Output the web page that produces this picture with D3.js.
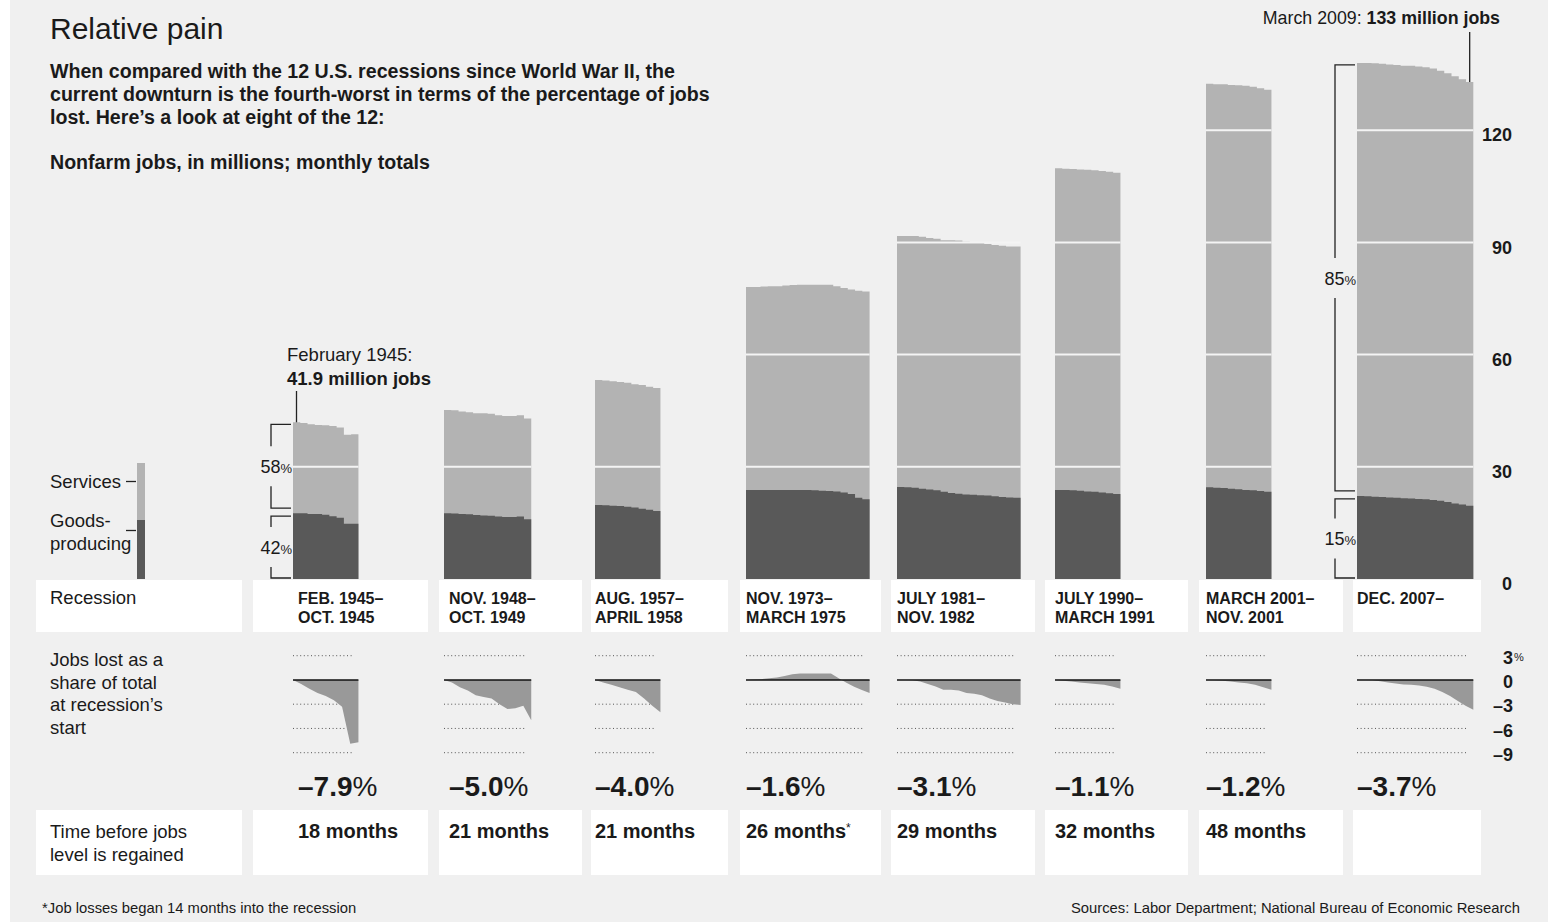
<!DOCTYPE html>
<html>
<head>
<meta charset="utf-8">
<script src="https://cdn.jsdelivr.net/npm/d3@7"></script>
<style>
    body { margin: 0; background: #fff; }
    svg text { font-family: "Liberation Sans", Arial, sans-serif; fill: #1a1a1a; }
    .bold { font-weight: bold; }
</style>
</head>
<body>
<div id="chart"></div>
<script>
// recession periods (two lines each)
var periods = [
    ["FEB. 1945–", "OCT. 1945"],
    ["NOV. 1948–", "OCT. 1949"],
    ["AUG.  1957–", "APRIL 1958"],
    ["NOV. 1973–", "MARCH 1975"],
    ["JULY 1981–", "NOV. 1982"],
    ["JULY 1990–", "MARCH 1991"],
    ["MARCH 2001–", "NOV. 2001"],
    ["DEC. 2007–", ""]
];

// nonfarm jobs, millions, monthly
var totalJobs = [
    [41.9, 41.7, 41.4, 41.2, 41.1, 40.9, 40.5, 38.6, 38.7],
    [45.2, 45.1, 44.8, 44.6, 44.3, 44.3, 44.2, 43.8, 43.6, 43.6, 43.8, 42.9],
    [53.2, 53.1, 52.9, 52.7, 52.5, 52.1, 51.9, 51.4, 51.1],
    [78.1, 78.1, 78.2, 78.3, 78.3, 78.5, 78.6, 78.7, 78.7, 78.7, 78.7, 78.7, 78.3, 77.8, 77.4, 77.1, 76.9],
    [91.7, 91.7, 91.7, 91.5, 91.2, 91.0, 90.6, 90.6, 90.5, 90.2, 90.1, 90.0, 89.6, 89.3, 89.1, 88.9, 88.9],
    [109.8, 109.7, 109.6, 109.5, 109.4, 109.3, 109.1, 108.9, 108.6],
    [132.4, 132.3, 132.3, 132.1, 132.0, 131.9, 131.6, 131.2, 130.8],
    [138.0, 138.0, 137.9, 137.8, 137.6, 137.4, 137.2, 137.2, 137.0, 136.8, 136.5, 135.9, 135.2, 134.4, 133.6, 132.9]
];

// goods-producing jobs, millions, monthly
var goodsJobs = [
    [17.6, 17.6, 17.4, 17.4, 17.2, 16.8, 16.4, 14.8, 14.8],
    [17.6, 17.5, 17.4, 17.3, 17.1, 17.0, 16.9, 16.7, 16.6, 16.6, 16.7, 16.0],
    [19.8, 19.7, 19.6, 19.5, 19.3, 19.1, 18.8, 18.5, 18.2],
    [23.8, 23.8, 23.8, 23.8, 23.8, 23.8, 23.8, 23.8, 23.8, 23.7, 23.6, 23.5, 23.4, 23.1, 22.7, 21.7, 21.3],
    [24.6, 24.5, 24.4, 24.1, 23.9, 23.7, 23.3, 23.0, 22.8, 22.6, 22.5, 22.4, 22.3, 22.1, 21.9, 21.8, 21.7],
    [23.8, 23.8, 23.7, 23.6, 23.4, 23.3, 23.1, 22.9, 22.7],
    [24.5, 24.4, 24.3, 24.1, 24.0, 23.8, 23.7, 23.5, 23.3],
    [22.2, 22.1, 22.0, 21.9, 21.8, 21.7, 21.6, 21.5, 21.4, 21.3, 21.1, 20.9, 20.6, 20.2, 19.9, 19.6]
];

// jobs lost as a share of total at recession's start, percent
var jobsLostPct = [
    [0, -0.5, -1.1, -1.6, -2.0, -2.5, -3.3, -7.9, -7.7],
    [0, -0.3, -0.9, -1.3, -1.9, -2.1, -2.3, -3.0, -3.6, -3.5, -3.2, -5.0],
    [0, -0.3, -0.6, -0.9, -1.2, -1.5, -2.3, -3.2, -4.0],
    [0, 0.05, 0.1, 0.2, 0.3, 0.5, 0.7, 0.8, 0.8, 0.8, 0.8, 0.8, 0.2, -0.35, -0.85, -1.25, -1.6],
    [0, 0, -0.05, -0.2, -0.5, -0.8, -1.2, -1.2, -1.3, -1.6, -1.7, -1.9, -2.3, -2.6, -2.8, -3.0, -3.1],
    [0, -0.1, -0.2, -0.3, -0.4, -0.5, -0.6, -0.8, -1.1],
    [0, -0.05, -0.1, -0.2, -0.3, -0.4, -0.6, -0.9, -1.2],
    [0, 0, -0.05, -0.15, -0.3, -0.45, -0.55, -0.6, -0.7, -0.85, -1.1, -1.5, -2.0, -2.6, -3.2, -3.7]
];

var worstDrop = ["–7.9", "–5.0", "–4.0", "–1.6", "–3.1", "–1.1", "–1.2", "–3.7"];
var monthsToRegain = ["18 months", "21 months", "21 months", "26 months", "29 months", "32 months", "48 months", ""];
var regainNote = ["", "", "", "*", "", "", "", ""];
var jobsTicks = [0, 30, 60, 90, 120];
var pctTicks = [3, 0, -3, -6, -9];
var shareBrackets = [
    {col: 0, services: "58", goods: "42"},
    {col: 7, services: "85", goods: "15"}
];

function init ()
{
    var w = 1554;
    var h = 922;
    var monthW = 7.27;
    var barX = [293, 444, 595, 746, 897, 1055, 1206, 1357];
    var colX = [298, 449, 595, 746, 897, 1055, 1206, 1357];
    var cellX0 = [253, 439, 591, 740, 891, 1045, 1199, 1353];
    var cellX1 = [428, 582, 728, 881, 1035, 1188, 1343, 1481];
    var servColor = "#b3b3b3";
    var goodsColor = "#595959";

    var svg = d3.select("#chart")
        .append("svg")
        .attr("width", w)
        .attr("height", h);

    //background panel
    svg.append("rect")
        .attr("x", 10).attr("y", 0)
        .attr("width", 1538).attr("height", h)
        .attr("fill", "#f0f0f0");

    //titles
    svg.append("text")
        .attr("x", 50).attr("y", 39)
        .style("font-size", "30px")
        .text("Relative pain");

    var sub = ["When compared with the 12 U.S. recessions since World War II, the",
               "current downturn is the fourth-worst in terms of the percentage of jobs",
               "lost. Here’s a look at eight of the 12:"];
    svg.selectAll(".sub")
        .data(sub)
        .enter()
        .append("text")
        .attr("class", "sub bold")
        .attr("x", 50)
        .attr("y", function(d, i) { return 78 + i * 23; })
        .style("font-size", "19.6px")
        .text(function(d) { return d; });

    svg.append("text")
        .attr("class", "bold")
        .attr("x", 50).attr("y", 169)
        .style("font-size", "19.6px")
        .text("Nonfarm jobs, in millions; monthly totals");

    //scales
    var yScale = d3.scaleLinear()
        .domain([0, 120])
        .range([579, 130.2]);

    var pScale = d3.scaleLinear()
        .domain([-9, 3])
        .range([752.7, 655.7]);

    //table cells
    var rows = [{y: 580, h: 52}, {y: 810, h: 65}];
    rows.forEach(function(r) {
        svg.append("rect")
            .attr("x", 36).attr("y", r.y)
            .attr("width", 206).attr("height", r.h)
            .attr("fill", "#fff");
        svg.selectAll(null)
            .data(cellX0)
            .enter()
            .append("rect")
            .attr("x", function(d) { return d; })
            .attr("y", r.y)
            .attr("width", function(d, i) { return cellX1[i] - d; })
            .attr("height", r.h)
            .attr("fill", "#fff");
    });

    //stacked monthly bars, drawn as step areas
    totalJobs.forEach(function(series, i) {
        var g = svg.append("g").attr("class", "bar");
        var n = series.length;
        var xScale = d3.scaleLinear()
            .domain([0, n])
            .range([barX[i], barX[i] + n * monthW]);

        var steps = d3.range(n + 1);
        var servArea = d3.area()
            .curve(d3.curveStepAfter)
            .x(function(j) { return xScale(j); })
            .y0(yScale(0))
            .y1(function(j) { return yScale(series[Math.min(j, n - 1)]); });
        var goodsArea = d3.area()
            .curve(d3.curveStepAfter)
            .x(function(j) { return xScale(j); })
            .y0(yScale(0))
            .y1(function(j) { return yScale(goodsJobs[i][Math.min(j, n - 1)]); });

        g.append("path")
            .datum(steps)
            .attr("d", servArea)
            .attr("fill", servColor);
        g.append("path")
            .datum(steps)
            .attr("d", goodsArea)
            .attr("fill", goodsColor);

        //white gridlines over the bar
        var top = d3.max(series);
        g.selectAll(".grid")
            .data(jobsTicks.filter(function(t) { return t > 0 && t < top; }))
            .enter()
            .append("line")
            .attr("x1", xScale(0)).attr("x2", xScale(n))
            .attr("y1", function(t) { return yScale(t); })
            .attr("y2", function(t) { return yScale(t); })
            .attr("stroke", "#f4f4f4")
            .attr("stroke-width", 2);
    });

    //jobs axis
    var yAxis = d3.axisRight(yScale)
        .tickValues(jobsTicks)
        .tickSize(0);
    var ya = svg.append("g")
        .attr("transform", "translate(1512,0)")
        .call(yAxis);
    ya.select(".domain").remove();
    ya.selectAll("text")
        .attr("x", 0).attr("dy", "0.32em")
        .attr("y", 5)
        .attr("text-anchor", "end")
        .attr("class", "bold")
        .style("font-size", "18px");

    //share brackets
    shareBrackets.forEach(function(b) {
        var i = b.col;
        var t = yScale(totalJobs[i][0]) + 2;
        var m = yScale(goodsJobs[i][0]);
        var bot = yScale(0) - 1;
        var bx = barX[i] - 22;
        var ex = barX[i] - 2;
        var segs = [[t, m - 5, b.services], [m + 3, bot, b.goods]];
        segs.forEach(function(s) {
            var mid = (s[0] + s[1]) / 2;
            var path = "M" + ex + "," + s[0] + "H" + bx + "V" + (mid - 20) +
                       "M" + bx + "," + (mid + 20) + "V" + s[1] + "H" + ex;
            svg.append("path")
                .attr("d", path)
                .attr("fill", "none")
                .attr("stroke", "#222")
                .attr("stroke-width", 1.3);
            var tx = svg.append("text")
                .attr("x", ex + 1).attr("y", mid + 7)
                .attr("text-anchor", "end")
                .style("font-size", "18px")
                .text(s[2]);
            tx.append("tspan").style("font-size", "13px").text("%");
        });
    });

    //callouts
    var firstTop = yScale(totalJobs[0][0]);
    svg.append("line")
        .attr("x1", 296.5).attr("x2", 296.5)
        .attr("y1", 391).attr("y2", firstTop)
        .attr("stroke", "#222").attr("stroke-width", 1.3);
    svg.append("text")
        .attr("x", 287).attr("y", 361)
        .style("font-size", "18.5px")
        .text("February 1945:");
    svg.append("text")
        .attr("class", "bold")
        .attr("x", 287).attr("y", 385)
        .style("font-size", "18.5px")
        .text(totalJobs[0][0] + " million jobs");

    var last = totalJobs[7];
    var lastX = barX[7] + (last.length - 0.5) * monthW;
    svg.append("line")
        .attr("x1", lastX).attr("x2", lastX)
        .attr("y1", 32).attr("y2", yScale(last[last.length - 1]))
        .attr("stroke", "#222").attr("stroke-width", 1.3);
    var mt = svg.append("text")
        .attr("x", 1500).attr("y", 24)
        .attr("text-anchor", "end")
        .style("font-size", "17.8px")
        .text("March 2009: ");
    mt.append("tspan").attr("class", "bold").text("133 million jobs");

    //legend
    svg.append("rect").attr("x", 137).attr("y", 463).attr("width", 8).attr("height", 57).attr("fill", servColor);
    svg.append("rect").attr("x", 137).attr("y", 520).attr("width", 8).attr("height", 59).attr("fill", goodsColor);
    svg.append("line").attr("x1", 126).attr("x2", 136).attr("y1", 481.5).attr("y2", 481.5).attr("stroke", "#222").attr("stroke-width", 1.3);
    svg.append("line").attr("x1", 126).attr("x2", 136).attr("y1", 530.5).attr("y2", 530.5).attr("stroke", "#222").attr("stroke-width", 1.3);
    svg.append("text").attr("x", 50).attr("y", 488).style("font-size", "18.5px").text("Services");
    svg.append("text").attr("x", 50).attr("y", 527).style("font-size", "18.5px").text("Goods-");
    svg.append("text").attr("x", 50).attr("y", 550).style("font-size", "18.5px").text("producing");

    //recession row
    svg.append("text").attr("x", 50).attr("y", 604).style("font-size", "18.5px").text("Recession");
    periods.forEach(function(p, i) {
        p.forEach(function(line, k) {
            svg.append("text")
                .attr("class", "bold")
                .attr("x", colX[i]).attr("y", 604 + k * 19)
                .style("font-size", "16px")
                .text(line);
        });
    });

    //jobs lost label
    ["Jobs lost as a", "share of total", "at recession’s", "start"].forEach(function(t, k) {
        svg.append("text")
            .attr("x", 50).attr("y", 666 + k * 22.5)
            .style("font-size", "18.5px")
            .text(t);
    });

    //sparklines
    jobsLostPct.forEach(function(series, i) {
        var n = series.length;
        var x0 = barX[i];
        var x1 = barX[i] + n * monthW;
        var sx = d3.scaleLinear()
            .domain([0, n - 1])
            .range([x0, x1]);

        svg.selectAll(null)
            .data(pctTicks.filter(function(t) { return t !== 0; }))
            .enter()
            .append("line")
            .attr("x1", x0).attr("x2", x1 - 5)
            .attr("y1", function(t) { return pScale(t); })
            .attr("y2", function(t) { return pScale(t); })
            .attr("stroke", "#555")
            .attr("stroke-width", 1)
            .attr("stroke-dasharray", "1,2.6");

        var area = d3.area()
            .x(function(d, j) { return sx(j); })
            .y0(pScale(0))
            .y1(function(d) { return pScale(d); });

        svg.append("path")
            .datum(series)
            .attr("d", area)
            .attr("fill", "#999");

        svg.append("line")
            .attr("x1", x0).attr("x2", x1)
            .attr("y1", pScale(0)).attr("y2", pScale(0))
            .attr("stroke", "#111")
            .attr("stroke-width", 1.6);

        //worst drop
        var wt = svg.append("text")
            .attr("class", "bold")
            .attr("x", colX[i]).attr("y", 796)
            .style("font-size", "28px")
            .text(worstDrop[i]);
        wt.append("tspan").style("font-weight", "normal").text("%");

        //months to regain
        var mt2 = svg.append("text")
            .attr("class", "bold")
            .attr("x", colX[i]).attr("y", 838)
            .style("font-size", "20px")
            .text(monthsToRegain[i]);
        if (regainNote[i]) {
            mt2.append("tspan")
                .attr("dy", -6)
                .style("font-size", "12px")
                .style("font-weight", "normal")
                .text(regainNote[i]);
        }
    });

    //percent axis
    var pAxis = d3.axisRight(pScale)
        .tickValues(pctTicks)
        .tickSize(0)
        .tickFormat(function(d) { return d < 0 ? "–" + Math.abs(d) : d; });
    var pa = svg.append("g")
        .attr("transform", "translate(1513,0)")
        .call(pAxis);
    pa.select(".domain").remove();
    pa.selectAll("text")
        .attr("x", 0).attr("dy", "0.32em")
        .attr("y", 2)
        .attr("text-anchor", "end")
        .attr("class", "bold")
        .style("font-size", "18px");
    pa.selectAll(".tick")
        .filter(function(d) { return d === 3; })
        .append("text")
        .attr("x", 1).attr("y", 5)
        .attr("text-anchor", "start")
        .style("font-size", "11px")
        .text("%");

    //time row label
    svg.append("text").attr("x", 50).attr("y", 838).style("font-size", "18.5px").text("Time before jobs");
    svg.append("text").attr("x", 50).attr("y", 861).style("font-size", "18.5px").text("level is regained");

    //footer
    svg.append("text")
        .attr("x", 42).attr("y", 913)
        .style("font-size", "14.8px")
        .text("*Job losses began 14 months into the recession");
    svg.append("text")
        .attr("x", 1520).attr("y", 913)
        .attr("text-anchor", "end")
        .style("font-size", "14.8px")
        .text("Sources: Labor Department; National Bureau of Economic Research");
};

window.onload = init;
</script>
</body>
</html>
